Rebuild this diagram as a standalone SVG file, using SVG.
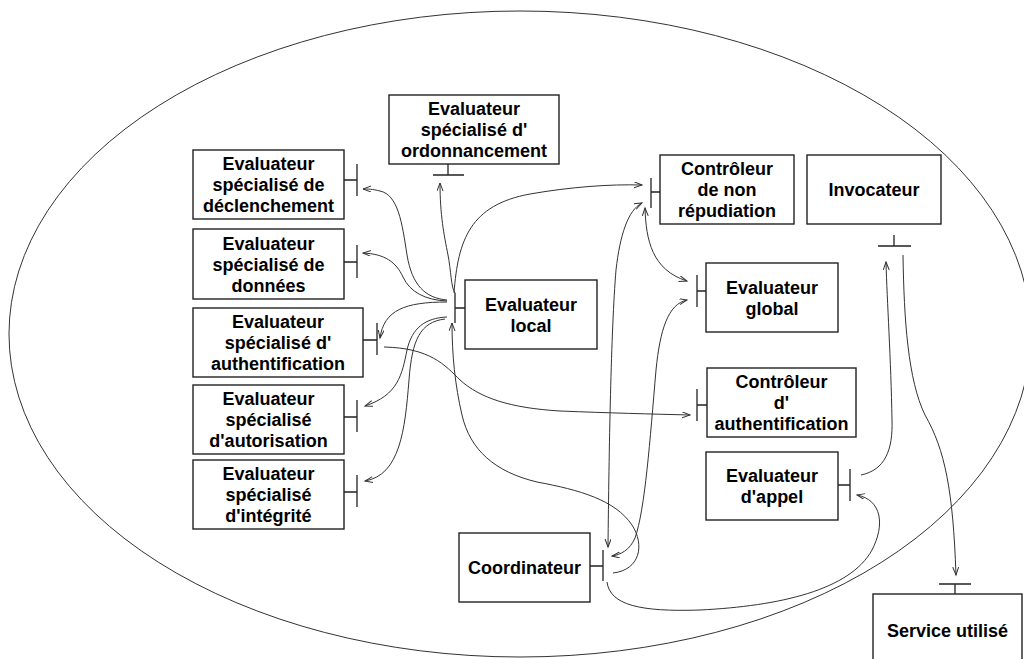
<svg xmlns="http://www.w3.org/2000/svg" width="1024" height="659" viewBox="0 0 1024 659">
<defs>
<style>
.box{fill:#fff;stroke:#222;stroke-width:1.4}
.t{font-family:"Liberation Sans",Arial,sans-serif;font-weight:bold;font-size:18px;fill:#000;text-anchor:middle}
.port{fill:none;stroke:#222;stroke-width:1.3}
.c{fill:none;stroke:#333;stroke-width:1}
.a1{marker-end:url(#ah)}
.a2{marker-start:url(#ah);marker-end:url(#ah)}
</style>
<marker id="ah" markerWidth="10" markerHeight="8" refX="8" refY="3" orient="auto-start-reverse" markerUnits="userSpaceOnUse">
<path d="M0,0 L8,3 L0,6" fill="none" stroke="#333" stroke-width="1"/>
</marker>
</defs>
<rect width="1024" height="659" fill="#fff"/>
<ellipse cx="520" cy="334" rx="511" ry="323" fill="none" stroke="#333" stroke-width="1"/>

<g id="connectors">
<path class="c a1" d="M447,300 C425,298 412,285 407,255 C402,222 398,195 380,191 C372,189 368,189 363,189"/>
<path class="c a1" d="M447,301 C425,300 410,292 403,277 C396,262 385,254 363,253"/>
<path class="c a1" d="M455,293 C451,288 451,270 448,255 C444,235 440,215 440,183"/>
<path class="c a1" d="M454,293 C458,240 470,205 530,194 C570,187 610,184 642,185"/>
<path class="c a1" d="M447,302 C405,302 384,310 380,338"/>
<path class="c a1" d="M447,317 C425,318 412,328 407,350 C402,375 398,395 365,406"/>
<path class="c a1" d="M445,319 C420,322 412,340 409,380 C405,430 400,475 365,481"/>
<path class="c a1" d="M384,347 C430,348 445,365 460,380 C480,398 510,408 560,411 C610,413 650,414 690,415"/>
<path class="c a1" d="M613,573 C640,570 645,545 632,525 C615,500 580,490 537,482 C495,472 470,450 462,415 C455,385 452,355 452,323"/>
<path class="c a2" d="M608,547 C609,450 611,330 616,270 C620,235 628,210 642,203"/>
<path class="c a2" d="M645,208 C646,240 652,270 687,281"/>
<path class="c a2" d="M687,300 C668,304 660,330 656,370 C650,440 645,510 635,538 C630,550 620,555 612,556"/>
<path class="c a1" d="M861,475 C885,470 893,450 892,420 C891,360 887,300 886,262"/>
<path class="c a1" d="M903,255 C904,320 908,380 925,415 C945,450 953,490 956,575"/>
<path class="c a1" d="M607,582 C610,605 640,612 700,610 C780,606 850,590 872,550 C885,525 882,500 857,495"/>
</g>

<g id="ordonnancement">
<rect class="box" x="389" y="95" width="170" height="69"/>
<path class="port" d="M448,164 V175 M433,175 H464"/>
<text class="t" x="474" y="115">Evaluateur</text>
<text class="t" x="474" y="136">spécialisé d'</text>
<text class="t" x="474" y="157">ordonnancement</text>
</g>

<g id="declenchement">
<rect class="box" x="193" y="150" width="151" height="69"/>
<path class="port" d="M344,180 H357 M357,164 V196"/>
<text class="t" x="268.5" y="170">Evaluateur</text>
<text class="t" x="268.5" y="191">spécialisé de</text>
<text class="t" x="268.5" y="212">déclenchement</text>
</g>

<g id="donnees">
<rect class="box" x="193" y="229" width="151" height="70"/>
<path class="port" d="M344,262 H357 M357,245 V278"/>
<text class="t" x="268.5" y="249.5">Evaluateur</text>
<text class="t" x="268.5" y="270.5">spécialisé de</text>
<text class="t" x="268.5" y="291.5">données</text>
</g>

<g id="authentification">
<rect class="box" x="193" y="308" width="170" height="69"/>
<path class="port" d="M363,340 H377 M377,323 V355"/>
<text class="t" x="278" y="328">Evaluateur</text>
<text class="t" x="278" y="349">spécialisé d'</text>
<text class="t" x="278" y="370">authentification</text>
</g>

<g id="autorisation">
<rect class="box" x="193" y="385" width="151" height="69"/>
<path class="port" d="M344,417 H357 M357,400 V432"/>
<text class="t" x="268.5" y="405">Evaluateur</text>
<text class="t" x="268.5" y="426">spécialisé</text>
<text class="t" x="268.5" y="447">d'autorisation</text>
</g>

<g id="integrite">
<rect class="box" x="193" y="460" width="151" height="69"/>
<path class="port" d="M344,492 H357 M357,475 V507"/>
<text class="t" x="268.5" y="480">Evaluateur</text>
<text class="t" x="268.5" y="501">spécialisé</text>
<text class="t" x="268.5" y="522">d'intégrité</text>
</g>

<g id="local">
<rect class="box" x="465" y="280" width="132" height="69"/>
<path class="port" d="M455,308 H465 M455,293 V323"/>
<text class="t" x="531" y="310.5">Evaluateur</text>
<text class="t" x="531" y="331.5">local</text>
</g>

<g id="nonrepudiation">
<rect class="box" x="660" y="155" width="134" height="69"/>
<path class="port" d="M651,192 H660 M651,178 V208"/>
<text class="t" x="727" y="175">Contrôleur</text>
<text class="t" x="727" y="196">de non</text>
<text class="t" x="727" y="217">répudiation</text>
</g>

<g id="invocateur">
<rect class="box" x="807" y="155" width="134" height="69"/>
<path class="port" d="M894,235 V246 M878,246 H911"/>
<text class="t" x="874" y="196">Invocateur</text>
</g>

<g id="global">
<rect class="box" x="706" y="263" width="132" height="69"/>
<path class="port" d="M697,291 H706 M697,275 V307"/>
<text class="t" x="772" y="293.5">Evaluateur</text>
<text class="t" x="772" y="314.5">global</text>
</g>

<g id="controleurauth">
<rect class="box" x="707" y="368" width="149" height="69"/>
<path class="port" d="M697,405 H707 M697,389 V421"/>
<text class="t" x="781.5" y="388">Contrôleur</text>
<text class="t" x="781.5" y="409">d'</text>
<text class="t" x="781.5" y="430">authentification</text>
</g>

<g id="appel">
<rect class="box" x="706" y="452" width="132" height="68"/>
<path class="port" d="M838,485 H850 M850,469 V501"/>
<text class="t" x="772" y="482">Evaluateur</text>
<text class="t" x="772" y="503">d'appel</text>
</g>

<g id="coordinateur">
<rect class="box" x="459" y="533" width="131" height="69"/>
<path class="port" d="M590,566 H603 M603,550 V581"/>
<text class="t" x="524.5" y="574">Coordinateur</text>
</g>

<g id="service">
<rect class="box" x="873" y="594" width="149" height="80"/>
<path class="port" d="M955,584 V594 M939,584 H971"/>
<text class="t" x="947.5" y="637">Service utilisé</text>
</g>
</svg>
